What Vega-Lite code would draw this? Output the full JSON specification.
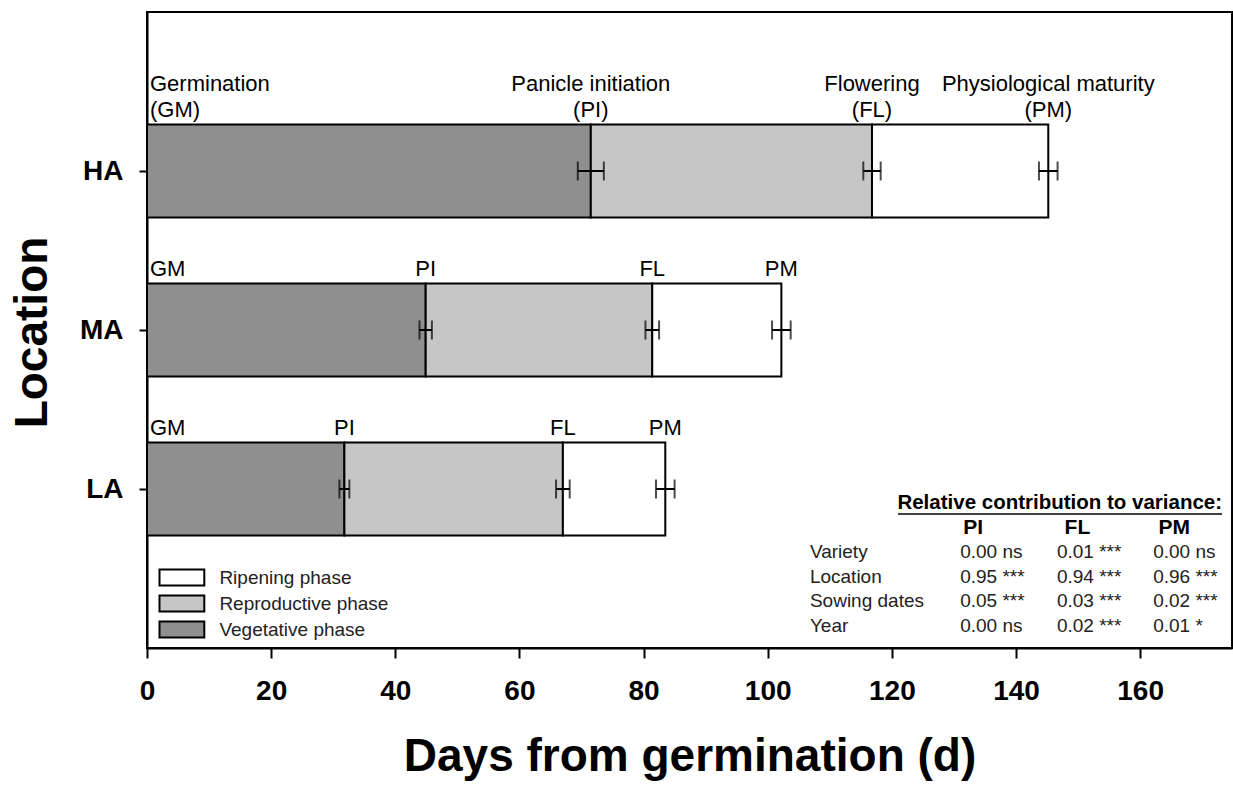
{
  "$schema": "https://vega.github.io/schema/vega-lite/v6.json",
  "width": 1085,
  "height": 636,
  "autosize": {"type": "none"},
  "padding": {"left": 147, "top": 12, "right": 1, "bottom": 137},
  "background": "white",
  "datasets": {
    "phases": [
      {"loc": "HA", "phase": "Vegetative phase", "start": 0, "end": 71.5},
      {"loc": "HA", "phase": "Reproductive phase", "start": 71.5, "end": 116.8},
      {"loc": "HA", "phase": "Ripening phase", "start": 116.8, "end": 145.2},
      {"loc": "MA", "phase": "Vegetative phase", "start": 0, "end": 44.9},
      {"loc": "MA", "phase": "Reproductive phase", "start": 44.9, "end": 81.4},
      {"loc": "MA", "phase": "Ripening phase", "start": 81.4, "end": 102.2},
      {"loc": "LA", "phase": "Vegetative phase", "start": 0, "end": 31.8},
      {"loc": "LA", "phase": "Reproductive phase", "start": 31.8, "end": 67.0},
      {"loc": "LA", "phase": "Ripening phase", "start": 67.0, "end": 83.5}
    ],
    "stages": [
      {"loc": "HA", "stage": "GM", "day": 0, "se": null, "name": "Germination", "abbr": "(GM)"},
      {"loc": "HA", "stage": "PI", "day": 71.5, "se": 2.1, "name": "Panicle initiation", "abbr": "(PI)"},
      {"loc": "HA", "stage": "FL", "day": 116.8, "se": 1.4, "name": "Flowering", "abbr": "(FL)"},
      {"loc": "HA", "stage": "PM", "day": 145.2, "se": 1.5, "name": "Physiological maturity", "abbr": "(PM)"},
      {"loc": "MA", "stage": "GM", "day": 0, "se": null, "name": null, "abbr": "GM"},
      {"loc": "MA", "stage": "PI", "day": 44.9, "se": 1.0, "name": null, "abbr": "PI"},
      {"loc": "MA", "stage": "FL", "day": 81.4, "se": 1.1, "name": null, "abbr": "FL"},
      {"loc": "MA", "stage": "PM", "day": 102.2, "se": 1.5, "name": null, "abbr": "PM"},
      {"loc": "LA", "stage": "GM", "day": 0, "se": null, "name": null, "abbr": "GM"},
      {"loc": "LA", "stage": "PI", "day": 31.8, "se": 0.8, "name": null, "abbr": "PI"},
      {"loc": "LA", "stage": "FL", "day": 67.0, "se": 1.1, "name": null, "abbr": "FL"},
      {"loc": "LA", "stage": "PM", "day": 83.5, "se": 1.5, "name": null, "abbr": "PM"}
    ],
    "table": [
      {"row": "title", "label": "Relative contribution to variance:"},
      {"row": "header", "label": null, "PI": "PI", "FL": "FL", "PM": "PM"},
      {"row": "Variety", "label": "Variety", "PI": "0.00 ns", "FL": "0.01 ***", "PM": "0.00 ns"},
      {"row": "Location", "label": "Location", "PI": "0.95 ***", "FL": "0.94 ***", "PM": "0.96 ***"},
      {"row": "Sowing dates", "label": "Sowing dates", "PI": "0.05 ***", "FL": "0.03 ***", "PM": "0.02 ***"},
      {"row": "Year", "label": "Year", "PI": "0.00 ns", "FL": "0.02 ***", "PM": "0.01 *"}
    ]
  },
  "config": {
    "font": "Liberation Sans",
    "view": {"stroke": "black", "strokeWidth": 2},
    "axis": {
      "domainColor": "black", "domainWidth": 2, "tickColor": "black", "tickWidth": 2,
      "grid": false, "labelColor": "black", "titleColor": "black",
      "labelFont": "Liberation Sans", "titleFont": "Liberation Sans"
    }
  },
  "layer": [
    {
      "layer": [
        {
          "data": {"name": "phases"},
          "mark": {"type": "bar", "stroke": "black", "strokeWidth": 2, "size": 93, "opacity": 1},
          "encoding": {
            "y": {
              "field": "loc", "type": "nominal", "title": "Location",
              "scale": {"type": "point", "domain": ["HA", "MA", "LA"], "padding": 1},
              "axis": {
                "title": "Location", "labelFontSize": 28, "labelFontWeight": "bold",
                "tickSize": 8, "labelPadding": 16, "titleFontSize": 46, "titleFontWeight": "bold",
                "titleX": -101, "titleY": 320, "titleBaseline": "alphabetic", "titleAngle": 270, "titleAlign": "center"
              }
            },
            "x": {
              "field": "start", "type": "quantitative", "title": "Days from germination (d)",
              "scale": {"domain": [0, 174.8], "nice": false, "zero": true},
              "axis": {
                "title": "Days from germination (d)", "values": [0, 20, 40, 60, 80, 100, 120, 140, 160],
                "labelFontSize": 28, "labelFontWeight": "bold", "labelFlush": false,
                "tickSize": 10, "labelPadding": 19, "titleFontSize": 46, "titleFontWeight": "bold",
                "titleY": 122, "titleBaseline": "alphabetic"
              }
            },
            "x2": {"field": "end"},
            "color": {
              "field": "phase", "type": "nominal",
              "scale": {"domain": ["Ripening phase", "Reproductive phase", "Vegetative phase"], "range": ["#ffffff", "#c6c6c6", "#8f8f8f"]},
              "legend": {
                "title": null, "orient": "none", "legendX": 25.4, "legendY": 556, "direction": "vertical",
                "symbolType": "M-2.8,-1H2.8V1H-2.8Z", "symbolSize": 256, "symbolStrokeColor": "black",
                "symbolStrokeWidth": 2, "symbolOpacity": 1, "labelFontSize": 19, "labelOffset": 28,
                "labelLimit": 400, "rowPadding": 1, "padding": 0, "labelColor": "#222222", "labelFont": "Liberation Sans"
              }
            }
          }
        },
        {
          "data": {"name": "stages"},
          "transform": [{"filter": "datum.se != null"}],
          "mark": {"type": "errorbar", "thickness": 2, "ticks": {"size": 19, "thickness": 2, "color": "black"}, "rule": {"strokeWidth": 2, "color": "black"}},
          "encoding": {
            "y": {"field": "loc", "type": "nominal", "title": "Location"},
            "x": {"field": "day", "type": "quantitative", "title": "Days from germination (d)"},
            "xError": {"field": "se"}
          }
        },
        {
          "data": {"name": "stages"},
          "transform": [{"filter": "datum.stage == 'GM'"}],
          "mark": {"type": "text", "align": "left", "baseline": "alphabetic", "dx": 3, "dy": -54, "fontSize": 22, "color": "black"},
          "encoding": {
            "y": {"field": "loc", "type": "nominal", "title": "Location"},
            "x": {"field": "day", "type": "quantitative", "title": "Days from germination (d)"},
            "text": {"field": "abbr"}
          }
        },
        {
          "data": {"name": "stages"},
          "transform": [{"filter": "datum.stage == 'GM' && datum.name != null"}],
          "mark": {"type": "text", "align": "left", "baseline": "alphabetic", "dx": 3, "dy": -80, "fontSize": 22, "color": "black"},
          "encoding": {
            "y": {"field": "loc", "type": "nominal", "title": "Location"},
            "x": {"field": "day", "type": "quantitative", "title": "Days from germination (d)"},
            "text": {"field": "name"}
          }
        },
        {
          "data": {"name": "stages"},
          "transform": [{"filter": "datum.stage != 'GM'"}],
          "mark": {"type": "text", "align": "center", "baseline": "alphabetic", "dy": -54, "fontSize": 22, "color": "black"},
          "encoding": {
            "y": {"field": "loc", "type": "nominal", "title": "Location"},
            "x": {"field": "day", "type": "quantitative", "title": "Days from germination (d)"},
            "text": {"field": "abbr"}
          }
        },
        {
          "data": {"name": "stages"},
          "transform": [{"filter": "datum.stage != 'GM' && datum.name != null"}],
          "mark": {"type": "text", "align": "center", "baseline": "alphabetic", "dy": -80, "fontSize": 22, "color": "black"},
          "encoding": {
            "y": {"field": "loc", "type": "nominal", "title": "Location"},
            "x": {"field": "day", "type": "quantitative", "title": "Days from germination (d)"},
            "text": {"field": "name"}
          }
        }
      ]
    },
    {
      "data": {"name": "table"},
      "encoding": {
        "y": {
          "field": "row", "type": "nominal",
          "scale": {"type": "point", "domain": ["title", "header", "Variety", "Location", "Sowing dates", "Year"], "range": [491, 614], "padding": 0},
          "axis": null
        }
      },
      "layer": [
        {
          "transform": [{"filter": "datum.row == 'title'"}],
          "mark": {"type": "text", "align": "right", "baseline": "middle", "fontSize": 20.5, "fontWeight": "bold", "color": "black"},
          "encoding": {"x": {"datum": 173.2, "type": "quantitative"}, "text": {"field": "label"}}
        },
        {
          "transform": [{"filter": "datum.row == 'title'"}],
          "mark": {"type": "rule", "color": "black", "strokeWidth": 1.5, "yOffset": 11},
          "encoding": {"x": {"datum": 121.0, "type": "quantitative"}, "x2": {"datum": 173.2}}
        },
        {
          "transform": [{"filter": "datum.row != 'title' && datum.row != 'header'"}],
          "mark": {"type": "text", "align": "left", "baseline": "middle", "fontSize": 19, "color": "#222222"},
          "encoding": {"x": {"datum": 106.8, "type": "quantitative"}, "text": {"field": "label"}}
        },
        {
          "transform": [{"filter": "datum.row != 'title' && datum.row != 'header'"}],
          "mark": {"type": "text", "align": "left", "baseline": "middle", "fontSize": 19, "color": "#222222"},
          "encoding": {"x": {"datum": 131.0, "type": "quantitative"}, "text": {"field": "PI"}}
        },
        {
          "transform": [{"filter": "datum.row != 'title' && datum.row != 'header'"}],
          "mark": {"type": "text", "align": "left", "baseline": "middle", "fontSize": 19, "color": "#222222"},
          "encoding": {"x": {"datum": 146.6, "type": "quantitative"}, "text": {"field": "FL"}}
        },
        {
          "transform": [{"filter": "datum.row != 'title' && datum.row != 'header'"}],
          "mark": {"type": "text", "align": "left", "baseline": "middle", "fontSize": 19, "color": "#222222"},
          "encoding": {"x": {"datum": 162.1, "type": "quantitative"}, "text": {"field": "PM"}}
        },
        {
          "transform": [{"filter": "datum.row == 'header'"}],
          "mark": {"type": "text", "align": "center", "baseline": "middle", "fontSize": 21, "fontWeight": "bold", "color": "black"},
          "encoding": {"x": {"datum": 133.1, "type": "quantitative"}, "text": {"field": "PI"}}
        },
        {
          "transform": [{"filter": "datum.row == 'header'"}],
          "mark": {"type": "text", "align": "center", "baseline": "middle", "fontSize": 21, "fontWeight": "bold", "color": "black"},
          "encoding": {"x": {"datum": 149.9, "type": "quantitative"}, "text": {"field": "FL"}}
        },
        {
          "transform": [{"filter": "datum.row == 'header'"}],
          "mark": {"type": "text", "align": "center", "baseline": "middle", "fontSize": 21, "fontWeight": "bold", "color": "black"},
          "encoding": {"x": {"datum": 165.5, "type": "quantitative"}, "text": {"field": "PM"}}
        }
      ]
    }
  ],
  "resolve": {"scale": {"y": "independent"}}
}
